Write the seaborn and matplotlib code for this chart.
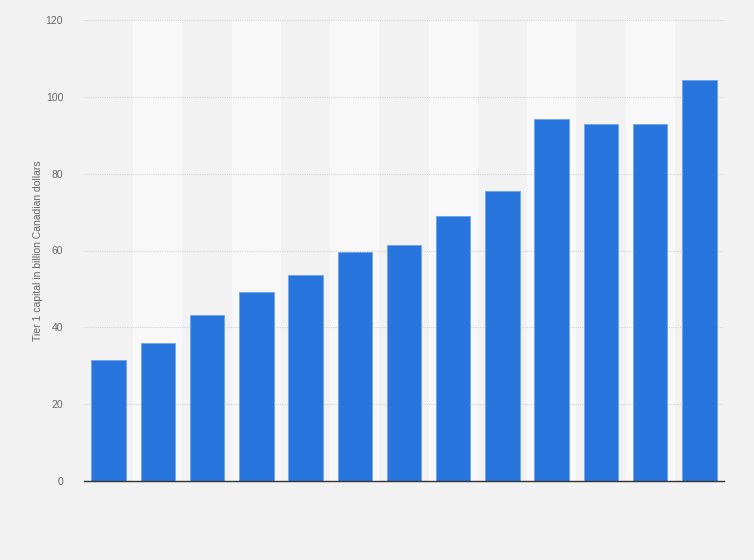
import matplotlib
matplotlib.use("Agg")
import matplotlib.pyplot as plt
import seaborn as sns
import pandas as pd

# values (no category labels shown)
years = [str(y) for y in range(2009, 2022)]
tier1 = [31.4, 35.8, 43.1, 49.1, 53.6, 59.6, 61.5, 69.0, 75.6, 94.3, 92.8, 93.0, 104.5]

df = pd.DataFrame({"year": years, "tier1": tier1})

sns.set_style("white")
plt.rcParams["font.family"] = ["Liberation Sans", "DejaVu Sans"]

fig = plt.figure(figsize=(7.54, 5.6), dpi=100, facecolor="#f2f2f2")
ax = fig.add_axes([84 / 754, 79 / 560, 640 / 754, 461 / 560])
ax.set_facecolor("#f2f2f2")

# alternating column bands
for i in range(len(years)):
    if i % 2 == 1:
        ax.axvspan(i - 0.5, i + 0.5, color="#f8f8f8", zorder=0, lw=0)

ax.set_axisbelow(True)
ax.yaxis.grid(True, color="#d6d6d6", linestyle=(0, (1, 1)), linewidth=0.8)

sns.barplot(data=df, x="year", y="tier1", color="#2876dd", saturation=1,
            width=0.7, edgecolor="#6fa3ea", linewidth=0.6, ax=ax, zorder=2)

ax.set_xlim(-0.5, len(years) - 0.5)
ax.set_ylim(0, 120)
ax.set_yticks([0, 20, 40, 60, 80, 100, 120])
ax.tick_params(axis="y", length=0, labelsize=7.5, labelcolor="#666666", pad=15)
ax.set_xticks([])
ax.set_xlabel("")
ax.set_ylabel("Tier 1 capital in billion Canadian dollars", fontsize=7.5,
              color="#666666", labelpad=2)

for s in ["top", "right", "left"]:
    ax.spines[s].set_visible(False)
ax.spines["bottom"].set_color("#333333")
ax.spines["bottom"].set_linewidth(1.0)
ax.spines["bottom"].set_zorder(3)

fig.savefig("out.png", dpi=100, facecolor=fig.get_facecolor())
